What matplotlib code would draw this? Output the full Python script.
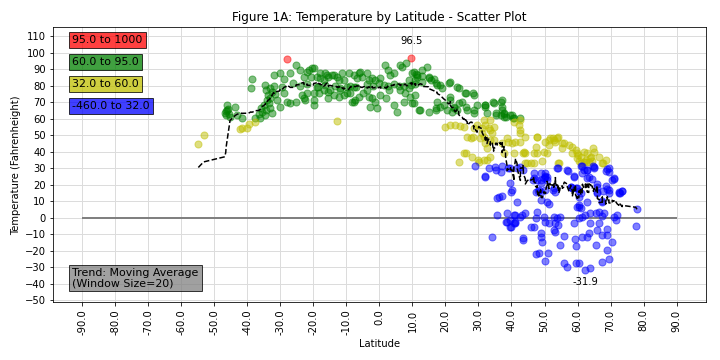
import numpy as np
import matplotlib
matplotlib.use("Agg")
import matplotlib.pyplot as plt

# ---- data (latitude, temperature F) ----
red_pts = [(-28.0, 96.0), (9.7, 96.5)]

green_pts = [
    (-46.2, 68.2), (-46.0, 65.2), (-46.4, 62.1), (-45.2, 61.1), (-43.6, 67.2), (-43.1, 62.1), (-41.6, 60.1),
    (-46.5, 64.5), (-45.8, 66.0), (-46.8, 63.5), (-45.5, 63.0),
    (-38.6, 83.8), (-38.9, 78.7), (-37.6, 60.5), (-36.1, 60.5),
    (-34.5, 80.3), (-34.2, 77.3), (-33.8, 74.2), (-34.0, 71.2), (-33.5, 69.2), (-34.2, 65.2), (-33.0, 66.2),
    (-32.5, 63.1), (-34.5, 62.1), (-32.0, 86.4), (-31.0, 71.2), (-30.2, 67.2), (-30.0, 87.4), (-28.8, 83.8),
    (-28.0, 70.2), (-27.2, 87.4), (-27.0, 69.2), (-26.0, 81.3), (-25.2, 92.4), (-25.2, 70.2), (-23.9, 89.4),
    (-23.4, 74.2), (-22.9, 85.4), (-22.4, 71.2), (-21.4, 89.4), (-20.7, 85.4), (-19.9, 90.4), (-19.9, 75.3),
    (-19.9, 68.2), (-18.9, 85.4), (-17.9, 84.4), (-18.9, 79.3), (-16.9, 83.3), (-15.8, 86.4), (-15.4, 72.2),
    (-14.8, 77.3), (-14.3, 86.4), (-12.8, 85.4), (-11.8, 77.3), (-11.3, 87.4), (-10.8, 83.3), (-9.8, 79.3),
    (-9.8, 75.3), (-8.3, 70.2), (-7.8, 79.3), (-7.3, 71.2), (-6.8, 84.4), (-6.3, 87.4),
    (-35.0, 68.0), (-35.5, 64.0), (-33.0, 72.5), (-32.5, 76.0), (-31.5, 75.0), (-31.8, 80.0), (-33.2, 78.5),
    (-36.5, 62.5), (-35.8, 66.5), (-29.5, 79.0), (-29.0, 75.5),
    (-22.9, 72.2), (-21.9, 75.3), (-19.9, 71.2), (-18.4, 75.3), (-16.9, 77.3), (-15.4, 76.3), (-13.8, 74.2),
    (-12.3, 73.2), (-10.8, 74.2), (-8.8, 75.3), (-7.8, 70.2), (-6.3, 73.2),
    (-21.9, 88.4), (-20.4, 90.4), (-17.9, 87.4), (-16.4, 87.4), (-15.4, 85.4), (-13.8, 86.4), (-12.3, 83.3),
    (-9.3, 87.4), (-7.8, 86.4),
    (-23.9, 80.0), (-21.9, 81.0), (-18.6, 79.0), (-16.4, 80.5), (-13.3, 79.5), (-11.8, 78.5), (-8.8, 80.0), (-7.0, 79.0),
    (-5.8, 88.4), (-5.2, 85.4), (-3.7, 87.4), (-3.2, 83.3), (-2.2, 84.4), (-1.2, 83.3), (0.3, 84.4), (1.8, 92.4),
    (2.5, 89.4), (3.3, 86.4), (4.3, 87.4), (6.4, 92.4), (8.2, 93.8), (10.4, 88.4), (11.4, 86.4), (-4.8, 75.3),
    (-3.7, 77.3), (-2.2, 72.2), (-2.7, 67.2), (-0.7, 66.2), (0.3, 74.2), (2.1, 72.2), (2.8, 77.3), (4.3, 68.2),
    (5.4, 64.1), (6.4, 77.3), (7.9, 75.3), (8.9, 78.3), (9.4, 73.2), (9.9, 69.2), (10.9, 74.2), (11.9, 65.2),
    (-3.7, 81.0), (-2.0, 80.0), (0.0, 81.5), (1.5, 80.5), (2.5, 79.5), (4.5, 81.0), (6.0, 80.0), (7.5, 79.5),
    (9.5, 80.5), (10.9, 81.0),
    (7.0, 91.0), (14.5, 91.4), (12.9, 89.4), (9.9, 87.4), (8.9, 83.3), (10.9, 83.3), (12.9, 82.3), (15.5, 83.3),
    (17.0, 81.3), (18.3, 80.3), (19.0, 78.3), (21.5, 82.3), (24.0, 78.3), (26.1, 75.3), (28.6, 74.2),
    (-3.2, 73.2), (-1.2, 70.2), (7.4, 70.2), (10.4, 69.2), (12.4, 65.2), (14.9, 64.1), (17.0, 66.2), (17.5, 70.2),
    (19.5, 68.2), (21.5, 71.2), (22.5, 66.2), (23.5, 65.2), (26.1, 67.2), (29.6, 68.2),
    (11.0, 87.0), (13.0, 86.0), (15.0, 85.0), (16.5, 84.0), (26.0, 75.6), (28.5, 75.4), (32.0, 68.0), (34.5, 70.0),
    (37.0, 71.0), (37.6, 63.0), (40.3, 62.0), (40.6, 60.5), (42.7, 60.5),
    (36.7, 70.2), (37.2, 65.2), (37.7, 63.2), (38.2, 60.8), (40.7, 60.2),
    (22.5, 67.2), (24.0, 69.2), (25.0, 70.2), (28.6, 65.2), (32.1, 67.2), (37.2, 67.2), (36.7, 62.1), (37.7, 61.1),
    (39.7, 62.1), (35.2, 63.1),
    (17.0, 65.2), (18.5, 67.2), (20.5, 65.2), (22.0, 64.1), (21.5, 73.2), (21.0, 81.3), (17.5, 80.3), (15.0, 84.4),
    (11.4, 85.4), (23.5, 79.3), (32.1, 68.2), (34.6, 69.6), (35.2, 62.1), (32.6, 63.1), (28.6, 63.1), (26.6, 65.2),
]

yellow_pts = [
    (-54.8, 44.4), (-53.2, 49.8), (-42.1, 53.5), (-41.6, 54.0), (-40.1, 54.0), (-39.6, 57.0), (-37.6, 58.0), (-12.8, 58.5),
    (20.0, 55.0), (21.5, 56.0), (23.0, 56.0), (24.5, 55.5), (25.5, 55.0), (31.6, 59.0), (33.6, 59.0), (40.7, 58.0),
    (42.7, 59.0), (31.1, 54.0), (33.1, 54.0), (34.7, 55.0), (42.7, 53.0), (42.2, 56.0), (27.6, 48.0), (31.6, 49.0),
    (38.7, 48.0), (44.2, 49.0),
    (28.6, 54.1), (29.6, 56.1), (32.1, 56.1), (33.6, 53.0), (34.2, 51.0), (31.1, 51.0), (26.6, 49.0), (32.1, 45.0),
    (32.6, 42.0), (34.6, 47.0), (37.2, 45.0), (40.2, 45.0), (42.7, 46.0), (42.7, 51.0), (47.8, 49.0), (47.3, 43.0),
    (50.3, 46.0), (52.8, 47.0), (53.3, 46.0), (57.4, 44.0), (59.4, 41.0), (24.0, 33.8), (26.1, 38.9), (30.1, 33.8),
    (31.6, 34.8), (33.6, 36.8), (37.7, 38.9), (40.7, 38.9), (43.7, 39.9), (44.2, 32.8), (45.8, 32.8), (47.8, 38.9),
    (49.8, 39.9), (50.8, 38.9), (54.3, 32.8),
    (28.5, 49.0), (30.6, 48.0), (33.6, 47.0), (25.5, 39.0), (28.0, 37.0), (30.0, 35.0), (32.7, 35.0), (38.8, 46.0),
    (41.0, 46.0), (43.6, 39.0), (46.7, 39.0), (46.7, 33.0),
    (47.8, 48.6), (51.5, 47.0), (52.7, 48.0), (54.2, 49.0), (55.8, 45.0), (44.0, 39.0), (58.4, 43.0), (58.4, 39.0),
    (60.0, 38.0), (61.0, 36.5), (62.5, 35.0), (64.0, 37.0), (60.5, 34.0), (62.5, 33.5), (64.5, 34.5), (67.5, 33.0),
    (49.3, 34.0), (54.2, 33.0), (44.8, 33.0),
    (51.8, 48.0), (53.8, 48.0), (55.4, 45.0), (55.4, 42.0), (51.3, 44.0), (59.9, 38.9), (59.9, 35.9), (61.9, 39.9),
    (62.9, 38.9), (61.9, 33.8), (63.4, 33.8), (63.9, 35.9), (67.8, 33.2), (60.9, 32.8),
    (65.0, 40.0), (66.5, 36.5), (68.5, 35.0), (64.8, 42.0),
]

blue_pts = [
    (29.1, 31.2), (32.1, 24.7), (33.1, 29.8), (35.2, 28.8), (36.7, 27.8), (37.2, 31.5), (39.7, 29.8), (41.7, 29.8),
    (42.7, 30.8), (39.7, 20.7), (40.2, 16.7), (36.2, 12.6), (35.7, 11.6), (41.7, 9.6), (38.7, 2.5), (40.7, 1.5),
    (43.2, 1.5), (46.8, 26.8), (48.8, 26.8), (49.8, 23.8), (47.8, 22.7), (50.8, 24.7), (47.3, 15.6), (48.8, 10.6),
    (50.8, 9.6), (53.8, 29.8), (56.9, 28.8), (58.4, 17.7), (59.4, 17.7), (60.4, 12.6), (60.4, 6.6),
    (35.0, 30.5), (39.0, 30.2),
    (43.6, 28.8), (50.3, 27.0), (46.7, 24.0), (48.8, 23.0), (50.3, 25.0), (54.2, 30.0), (57.0, 28.0), (58.8, 25.0),
    (61.5, 27.0), (63.0, 24.0), (64.5, 23.5), (61.5, 31.0), (63.0, 29.0), (64.8, 31.0), (65.0, 30.0), (68.5, 28.0),
    (69.4, 30.0), (71.0, 24.0), (52.7, 17.0), (57.9, 18.5), (66.0, 18.5), (67.6, 16.0), (69.4, 17.0), (73.0, 15.0),
    (73.6, 16.0),
    (37.2, 13.0), (40.0, 15.6), (35.7, 1.5), (38.5, -2.5), (41.2, 1.5), (42.7, 0.5), (44.2, 3.0), (40.0, -6.0),
    (41.2, -3.0), (34.2, -12.0), (43.5, -12.6), (43.5, -13.5), (45.8, -6.0), (46.8, -5.6), (48.8, -9.4), (49.3, -14.6),
    (49.0, -11.6), (47.3, -22.3), (48.3, -21.7), (51.0, -21.3), (50.3, -26.2), (47.8, 3.5), (47.5, -0.5), (49.8, 0.5),
    (50.3, -2.5), (51.3, -3.5), (52.8, 0.5), (53.8, -0.5), (54.8, 0.5), (53.3, -3.5), (54.0, -4.5), (53.0, -7.6),
    (53.3, -8.6), (54.6, -16.7), (56.0, -11.2), (51.3, 8.2), (55.8, -27.4), (56.9, -29.8), (58.9, -3.5), (60.4, -0.5),
    (61.4, 0.5), (62.4, 1.5), (63.9, 2.5), (65.5, 2.5), (66.5, 3.5), (67.5, 1.0), (68.0, 2.5), (59.1, -13.2),
    (59.4, -17.3), (61.4, -11.6), (63.4, -9.6), (63.9, -3.5), (66.5, -3.5), (66.0, -7.6), (62.9, -11.6), (59.4, -27.4),
    (60.4, -27.8), (62.4, -31.9), (63.9, -30.8), (65.7, -16.7), (67.5, -26.8), (68.8, -19.7), (69.5, -25.3),
    (70.5, -15.0), (69.0, -10.6), (69.0, -7.2), (67.5, -10.6), (71.0, 0.5), (72.0, 1.5), (71.5, -1.5), (77.6, -5.2),
    (78.0, 5.0), (72.5, 15.6), (69.5, 14.7), (66.0, 14.7), (67.5, 9.6), (62.9, 9.6), (60.4, 7.6), (60.9, 5.6),
    (50.3, 16.7), (48.3, 16.7),
    (32.1, 25.2), (50.3, 24.4), (50.8, 22.7), (46.6, 22.7), (48.8, 20.7), (48.0, 16.2), (48.8, 15.6), (52.8, 17.7),
    (53.3, 15.6), (58.9, 24.7), (57.9, 18.7), (59.9, 17.7), (60.4, 16.2), (60.9, 14.7), (59.9, 6.5), (60.9, 31.0),
    (61.9, 29.0), (62.9, 28.8), (63.4, 24.6), (64.9, 30.4), (66.0, 20.3), (66.0, 15.3), (67.5, 10.3), (68.5, 19.3),
    (69.0, 17.3), (69.5, 27.4), (68.8, 29.4), (71.0, 23.2), (70.5, 22.7), (72.5, 14.7), (73.5, 16.3),
    (38.2, -2.5), (39.7, -1.5), (41.2, -2.5), (39.7, -5.6), (40.7, -3.5),
]

groups = [
    ("95.0 to 1000", "r", red_pts),
    ("60.0 to 95.0", "g", green_pts),
    ("32.0 to 60.0", "y", yellow_pts),
    ("-460.0 to 32.0", "b", blue_pts),
]
legend_y = [107.6, 94.2, 80.9, 67.6]

x_ticks = np.arange(-90, 91, 10)
y_ticks = np.arange(-50, 111, 10)
window = 20

# ---- figure ----
fig = plt.figure(figsize=(10, 5), dpi=72)
ax = fig.add_axes([0.0736, 0.160, 0.907, 0.764])

for label, col, pts in groups:
    arr = np.array(pts)
    ax.scatter(arr[:, 0], arr[:, 1], c=col, alpha=0.5, s=50, zorder=3)

all_pts = np.array(red_pts + green_pts + yellow_pts + blue_pts)
order = np.argsort(all_pts[:, 0], kind="stable")
lat_sorted = all_pts[order, 0]
temp_sorted = all_pts[order, 1]
trend = np.convolve(temp_sorted, np.ones(window) / window, mode="same")
ax.plot(lat_sorted, trend, "k--", lw=1.5, zorder=4)

ax.hlines(0, x_ticks[0], x_ticks[-1], colors="gray", lw=2, zorder=2)

imax = np.argmax(all_pts[:, 1])
imin = np.argmin(all_pts[:, 1])
ax.text(all_pts[imax, 0], all_pts[imax, 1] + 8.7, f"{all_pts[imax, 1]:.1f}", ha="center", va="baseline", fontsize=10)
ax.text(all_pts[imin, 0], all_pts[imin, 1] - 9.0, f"{all_pts[imin, 1]:.1f}", ha="center", va="baseline", fontsize=10)

for (label, col, pts), yy in zip(groups, legend_y):
    ax.text(-92.95, yy, label, ha="left", va="center", fontsize=11,
            bbox=dict(facecolor=col, alpha=0.75, edgecolor="black", pad=3.0))

ax.text(-92.95, -36.7, "Trend: Moving Average\n(Window Size=20)", ha="left", va="center", fontsize=11,
        linespacing=1.0, bbox=dict(facecolor="gray", alpha=0.75, edgecolor="black", pad=3.0))

ax.set_xlim(-98.8, 98.9)
ax.set_ylim(-51.4, 115.3)
ax.set_xticks(x_ticks)
ax.set_xticklabels([f"{v:.1f}" for v in x_ticks], rotation=90)
ax.set_yticks(y_ticks)
ax.grid(True, color="#dcdcdc", lw=1, zorder=0)
ax.set_axisbelow(True)
ax.set_title("Figure 1A: Temperature by Latitude - Scatter Plot", fontsize=12)
ax.set_xlabel("Latitude")
ax.set_ylabel("Temperature (Fahrenheight)")

fig.savefig("out.png", dpi=72)
